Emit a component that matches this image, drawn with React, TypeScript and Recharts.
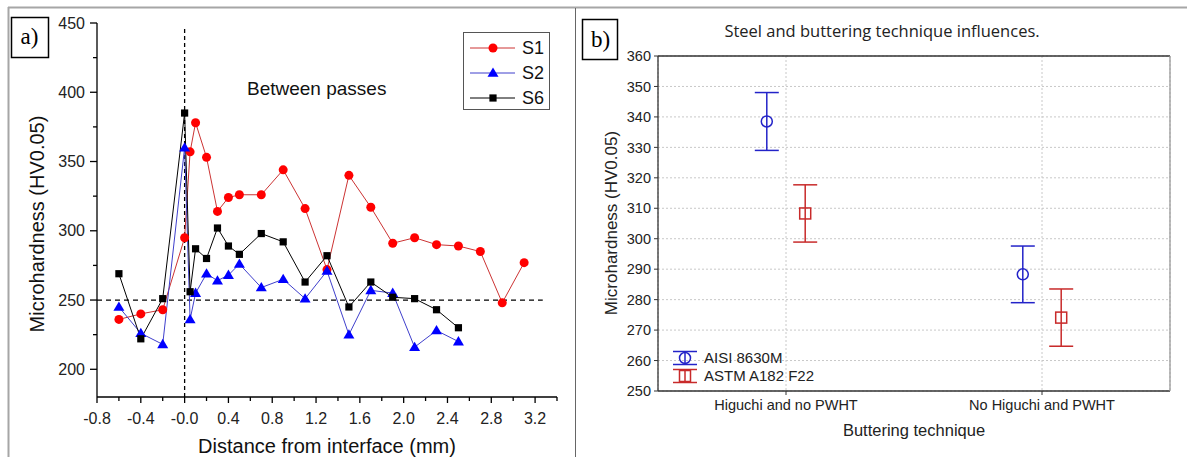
import React from 'react';
import {
  LineChart,
  Line,
  XAxis,
  YAxis,
  ReferenceLine,
  Legend,
  ScatterChart,
  Scatter,
  ErrorBar,
  CartesianGrid,
} from 'recharts';

const FONT = '"Liberation Sans", Arial, sans-serif';

// a) hardness profiles across the interface
const s1Distance = [-0.6, -0.4, -0.2, 0, 0.05, 0.1, 0.2, 0.3, 0.4, 0.5, 0.7, 0.9, 1.1, 1.3, 1.5, 1.7, 1.9, 2.1, 2.3, 2.5, 2.7, 2.9, 3.1];
const s1Hardness = [236, 240, 243, 295, 357, 378, 353, 314, 324, 326, 326, 344, 316, 272, 340, 317, 291, 295, 290, 289, 285, 248, 277];
const s2Distance = [-0.6, -0.4, -0.2, 0, 0.05, 0.1, 0.2, 0.3, 0.4, 0.5, 0.7, 0.9, 1.1, 1.3, 1.5, 1.7, 1.9, 2.1, 2.3, 2.5];
const s2Hardness = [245, 226, 218, 360, 236, 255, 269, 264, 268, 276, 259, 265, 251, 271, 225, 257, 255, 216, 228, 220];
const s6Distance = [-0.6, -0.4, -0.2, 0, 0.05, 0.1, 0.2, 0.3, 0.4, 0.5, 0.7, 0.9, 1.1, 1.3, 1.5, 1.7, 1.9, 2.1, 2.3, 2.5];
const s6Hardness = [269, 222, 251, 385, 256, 287, 280, 302, 289, 283, 298, 292, 263, 282, 245, 263, 252, 251, 243, 230];

const xMajorTicks = [-0.8, -0.4, 0, 0.4, 0.8, 1.2, 1.6, 2.0, 2.4, 2.8, 3.2];
const xMajorLabels = ['-0.8', '-0.4', '-0.0', '0.4', '0.8', '1.2', '1.6', '2.0', '2.4', '2.8', '3.2'];
const xMinorTicks = [-0.6, -0.2, 0.2, 0.6, 1.0, 1.4, 1.8, 2.2, 2.6, 3.0, 3.4];
const yMajorTicks = [200, 250, 300, 350, 400, 450];
const yMinorTicks = [225, 275, 325, 375, 425];
const hvLimit = 250;

// b) steel and buttering technique (mean +/- interval)
const techniques = ['Higuchi and no PWHT', 'No Higuchi and PWHT'];
const aisiMean = [338.5, 288.3];
const aisiCi = [9.5, 9.3];
const astmMean = [308.3, 274.1];
const astmCi = [9.4, 9.4];
const bTicks = [250, 260, 270, 280, 290, 300, 310, 320, 330, 340, 350, 360];

const zip = (xs: number[], ys: number[]) => xs.map((x, i) => ({ x, y: ys[i] }));

const profiles = [
  { name: 'S1', data: zip(s1Distance, s1Hardness), line: '#cc3333', mark: '#ff0000', shape: 'circle' },
  { name: 'S2', data: zip(s2Distance, s2Hardness), line: '#3f3fcc', mark: '#0000ff', shape: 'triangle' },
  { name: 'S6', data: zip(s6Distance, s6Hardness), line: '#000000', mark: '#000000', shape: 'square' },
];

const Marker = ({ shape, cx, cy, color }: { shape: string; cx: number; cy: number; color: string }) => {
  if (shape === 'circle') return <circle cx={cx} cy={cy} r={4.5} fill={color} />;
  if (shape === 'triangle')
    return <polygon points={`${cx},${cy - 5.5} ${cx + 5.5},${cy + 3.8} ${cx - 5.5},${cy + 3.8}`} fill={color} />;
  return <rect x={cx - 3.6} y={cy - 3.6} width={7.2} height={7.2} fill={color} />;
};

const XTickA = (props: any) => {
  const { x, y, payload } = props;
  const i = xMajorTicks.findIndex((t) => Math.abs(t - payload.value) < 1e-6);
  const major = i >= 0;
  return (
    <g>
      <line x1={x} y1={y} x2={x} y2={y + (major ? 6 : 4)} stroke="#000" strokeWidth={1.3} />
      {major && (
        <text x={x} y={y + 27} textAnchor="middle" fontSize={16} fill="#222" fontFamily={FONT}>
          {xMajorLabels[i]}
        </text>
      )}
    </g>
  );
};

const YTickA = (props: any) => {
  const { x, y, payload } = props;
  const major = yMajorTicks.includes(payload.value);
  return (
    <g>
      <line x1={x - (major ? 7 : 4)} y1={y} x2={x} y2={y} stroke="#000" strokeWidth={1.3} />
      {major && (
        <text x={x - 12} y={y} dy="0.35em" textAnchor="end" fontSize={16} fill="#222" fontFamily={FONT}>
          {payload.value}
        </text>
      )}
    </g>
  );
};

const ProfileLegend = () => (
  <svg width={87} height={78} style={{ display: 'block' }}>
    <rect x={0.5} y={0.5} width={86} height={77} fill="#fff" stroke="#555" />
    {profiles.map((s, i) => {
      const cy = 16 + i * 25;
      return (
        <g key={s.name}>
          <line x1={7} y1={cy} x2={52} y2={cy} stroke={s.line} strokeWidth={1} />
          <Marker shape={s.shape} cx={30} cy={cy} color={s.mark} />
          <text x={59} y={cy} dy="0.36em" fontSize={18} fill="#111" fontFamily={FONT}>
            {s.name}
          </text>
        </g>
      );
    })}
  </svg>
);

const BLUE = '#2323c8';
const RED = '#c82a2a';
const GROUP_SHIFT = 0.075;

const steelSeries = [
  { name: 'AISI 8630M', mean: aisiMean, ci: aisiCi, color: BLUE, shape: 'circle', shift: -GROUP_SHIFT },
  { name: 'ASTM A182 F22', mean: astmMean, ci: astmCi, color: RED, shape: 'square', shift: GROUP_SHIFT },
];

const HollowMark = ({ shape, cx, cy, color }: { shape: string; cx: number; cy: number; color: string }) =>
  shape === 'circle' ? (
    <circle cx={cx} cy={cy} r={5.5} fill="none" stroke={color} strokeWidth={1.5} />
  ) : (
    <rect x={cx - 5.5} y={cy - 5.5} width={11} height={11} fill="none" stroke={color} strokeWidth={1.5} />
  );

const SteelLegend = () => (
  <svg width={150} height={38} style={{ display: 'block' }}>
    {steelSeries.map((s, i) => {
      const cy = 9 + i * 18;
      return (
        <g key={s.name}>
          <line x1={12} y1={cy - 6.5} x2={12} y2={cy + 6.5} stroke={s.color} strokeWidth={1.5} />
          <line x1={0} y1={cy - 6.5} x2={24} y2={cy - 6.5} stroke={s.color} strokeWidth={1.5} />
          <line x1={0} y1={cy + 6.5} x2={24} y2={cy + 6.5} stroke={s.color} strokeWidth={1.5} />
          <HollowMark shape={s.shape} cx={12} cy={cy} color={s.color} />
          <text x={31} y={cy} dy="0.36em" fontSize={15} fill="#222" fontFamily={FONT}>
            {s.name}
          </text>
        </g>
      );
    })}
  </svg>
);

export default function App() {
  const xTicks = [...xMajorTicks, ...xMinorTicks].sort((a, b) => a - b);
  const yTicks = [...yMajorTicks, ...yMinorTicks].sort((a, b) => a - b);

  return (
    <div style={{ position: 'absolute', left: 0, top: 0, width: 1187, height: 457, background: '#fff', fontFamily: FONT }}>
      <div style={{ position: 'absolute', left: 0, top: 0 }}>
        <LineChart width={575} height={457} margin={{ top: 23, right: 18, bottom: 0, left: 0 }}>
          <XAxis
            type="number"
            dataKey="x"
            domain={[-0.8, 3.4]}
            ticks={xTicks}
            interval={0}
            tick={XTickA}
            tickLine={false}
            tickSize={0}
            tickMargin={0}
            height={60}
            axisLine={{ stroke: '#000', strokeWidth: 1.3 }}
            allowDataOverflow
          />
          <YAxis
            type="number"
            dataKey="y"
            domain={[180, 450]}
            ticks={yTicks}
            interval={0}
            tick={YTickA}
            tickLine={false}
            tickSize={0}
            tickMargin={0}
            width={97}
            axisLine={{ stroke: '#000', strokeWidth: 1.3 }}
            allowDataOverflow
          />
          <ReferenceLine
            segment={[{ x: 0, y: 180 }, { x: 0, y: 447 }]}
            stroke="#000"
            strokeWidth={1.3}
            strokeDasharray="4 3"
          />
          <ReferenceLine
            segment={[{ x: -0.8, y: hvLimit }, { x: 3.27, y: hvLimit }]}
            stroke="#000"
            strokeWidth={1.3}
            strokeDasharray="5 4"
          />
          {profiles.map((s) => (
            <Line
              key={s.name}
              name={s.name}
              data={s.data}
              dataKey="y"
              type="linear"
              stroke={s.line}
              strokeWidth={1}
              activeDot={false}
              isAnimationActive={false}
              dot={(p: any) => (
                <Marker key={`${s.name}-${p.index}`} shape={s.shape} cx={p.cx} cy={p.cy} color={s.mark} />
              )}
            />
          ))}
          <Legend
            layout="vertical"
            align="center"
            verticalAlign="middle"
            wrapperStyle={{ left: 463, top: 32, width: 87, height: 78 }}
            content={() => <ProfileLegend />}
          />
        </LineChart>
      </div>

      <div style={{ position: 'absolute', left: 580, top: 0 }}>
        <ScatterChart width={607} height={457} margin={{ top: 56, right: 5, bottom: 0, left: 0 }}>
          <CartesianGrid stroke="#c8c8c8" strokeDasharray="2 2" />
          <XAxis
            type="number"
            dataKey="x"
            domain={[-0.5, 1.5]}
            ticks={[0, 1]}
            interval={0}
            tickFormatter={(v: number) => techniques[Math.round(v)]}
            tick={{ fontSize: 14.5, fill: '#222', fontFamily: FONT }}
            tickSize={4}
            tickMargin={5}
            height={66}
            axisLine={{ stroke: '#333', strokeWidth: 1.3 }}
            tickLine={{ stroke: '#333' }}
          />
          <YAxis
            type="number"
            dataKey="y"
            domain={[250, 360]}
            ticks={bTicks}
            interval={0}
            tick={{ fontSize: 14.5, fill: '#222', fontFamily: FONT }}
            tickSize={4}
            tickMargin={3}
            width={78}
            axisLine={{ stroke: '#333', strokeWidth: 1.3 }}
            tickLine={{ stroke: '#333' }}
            allowDataOverflow
          />
          <YAxis
            yAxisId="r"
            orientation="right"
            type="number"
            domain={[250, 360]}
            ticks={bTicks}
            interval={0}
            tick={() => <g />}
            tickSize={4}
            width={12}
            axisLine={{ stroke: '#999', strokeWidth: 1.3 }}
            tickLine={{ stroke: '#999' }}
          />
          <ReferenceLine y={360} stroke="#333" strokeWidth={1.3} />
          {steelSeries.map((s) => (
            <Scatter
              key={s.name}
              name={s.name}
              data={techniques.map((t, i) => ({ x: i + s.shift, y: s.mean[i], ci: s.ci[i], technique: t }))}
              isAnimationActive={false}
              shape={(p: any) => <HollowMark shape={s.shape} cx={p.cx} cy={p.cy} color={s.color} />}
            >
              <ErrorBar dataKey="ci" direction="y" width={12} stroke={s.color} strokeWidth={1.5} isAnimationActive={false} />
            </Scatter>
          ))}
          <Legend
            layout="vertical"
            align="center"
            verticalAlign="middle"
            wrapperStyle={{ left: 93, top: 349, width: 150, height: 38 }}
            content={() => <SteelLegend />}
          />
        </ScatterChart>
      </div>

      <svg width={1187} height={457} style={{ position: 'absolute', left: 0, top: 0, pointerEvents: 'none' }}>
        <line x1={8} y1={7.5} x2={1187} y2={7.5} stroke="#a6a6a6" strokeWidth={2} />
        <line x1={8.5} y1={7} x2={8.5} y2={457} stroke="#a6a6a6" strokeWidth={2} />
        <line x1={575.5} y1={8} x2={575.5} y2={457} stroke="#666" strokeWidth={1} />

        <rect x={11.5} y={17.5} width={37} height={40} fill="#fff" stroke="#000" strokeWidth={1.5} />
        <text x={29.5} y={44} textAnchor="middle" fontSize={23} fontFamily='"Liberation Serif", serif' fill="#000">
          a)
        </text>
        <rect x={582.5} y={19.5} width={35} height={40} fill="#fff" stroke="#000" strokeWidth={1.5} />
        <text x={600.5} y={47} textAnchor="middle" fontSize={23} fontFamily='"Liberation Serif", serif' fill="#000">
          b)
        </text>

        <text x={247} y={95} fontSize={19} fill="#111" fontFamily={FONT}>
          Between passes
        </text>
        <text transform="translate(37,224) rotate(-90)" dy="0.35em" textAnchor="middle" fontSize={20} fill="#111" fontFamily={FONT}>
          Microhardness (HV0.05)
        </text>
        <text x={327} y={453} textAnchor="middle" fontSize={20} fill="#111" fontFamily={FONT}>
          Distance from interface (mm)
        </text>

        <text x={882} y={37} textAnchor="middle" fontSize={16.5} fill="#222" fontFamily='"Open Sans", sans-serif'>
          Steel and buttering technique influences.
        </text>
        <text transform="translate(611,223) rotate(-90)" dy="0.35em" textAnchor="middle" fontSize={17} fill="#222" fontFamily={FONT}>
          Microhardness (HV0.05)
        </text>
        <text x={914} y={436} textAnchor="middle" fontSize={16.5} fill="#222" fontFamily={FONT}>
          Buttering technique
        </text>
      </svg>
    </div>
  );
}
